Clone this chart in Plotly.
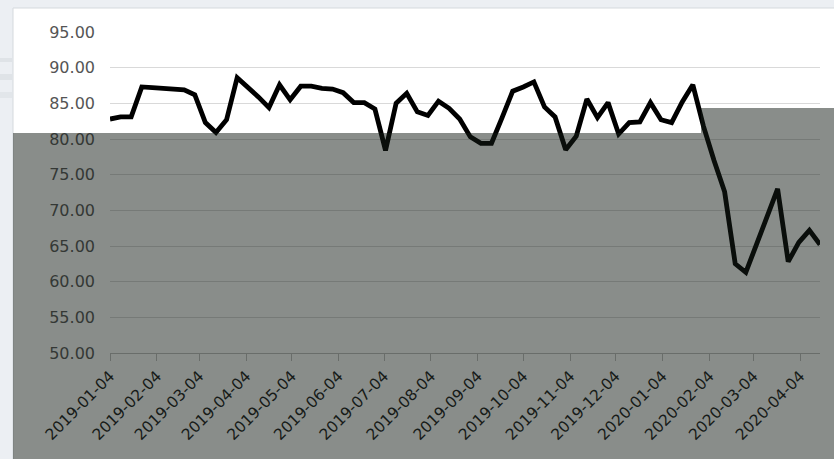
import pandas as pd
import plotly.graph_objects as go

# ---- data (weekly) ----
start_date = "2019-01-04"
values = [
    82.8, 83.1, 83.1, 87.3, 87.2, 87.1, 86.9, 86.9, 86.2, 82.3,
    80.9, 82.7, 88.6, 87.3, 85.9, 84.4, 87.6, 85.5, 87.4, 87.4,
    87.1, 87.0, 86.5, 85.1, 85.1, 84.2, 78.4, 85.0, 86.4, 83.8,
    83.3, 85.3, 84.3, 82.8, 80.3, 79.4, 79.4, 83.0, 86.7, 87.3,
    88.0, 84.5, 83.1, 78.5, 80.4, 85.6, 83.0, 85.1, 80.7, 82.3,
    82.4, 85.1, 82.7, 82.3, 85.2, 87.6, 81.8, 77.0, 72.6, 62.5,
    61.3, 65.2, 69.2, 73.0, 62.8, 65.5, 67.2, 65.2,
]
dates = pd.date_range(start_date, periods=len(values), freq="7D")
tick_dates = [
    "2019-01-04", "2019-02-04", "2019-03-04", "2019-04-04", "2019-05-04",
    "2019-06-04", "2019-07-04", "2019-08-04", "2019-09-04", "2019-10-04",
    "2019-11-04", "2019-12-04", "2020-01-04", "2020-02-04", "2020-03-04",
    "2020-04-04",
]
y_ticks = [50, 55, 60, 65, 70, 75, 80, 85, 90, 95]

# ---- geometry helpers (pixel -> paper) ----
W, H = 834, 459
L, R, T, B = 110, 14, 32, 106
PW, PH = W - L - R, H - T - B


def px(x):
    return (x - L) / PW


def py(y):
    return (H - B - y) / PH


fig = go.Figure()
fig.add_trace(go.Scatter(
    x=dates, y=values, mode="lines",
    line=dict(color="#000000", width=4.8),
    showlegend=False, hoverinfo="skip",
))

shapes = [
    # white chart box
    dict(type="rect", xref="paper", yref="paper",
         x0=px(13), x1=px(850), y0=py(480), y1=py(8),
         fillcolor="#ffffff", line=dict(color="#d5d9dd", width=1), layer="below"),
    # faint page stripes left
    dict(type="rect", xref="paper", yref="paper",
         x0=px(-5), x1=px(12), y0=py(62), y1=py(58),
         fillcolor="#dfe3e7", line=dict(width=0), layer="below"),
    dict(type="rect", xref="paper", yref="paper",
         x0=px(-5), x1=px(12), y0=py(80), y1=py(74),
         fillcolor="#dfe3e7", line=dict(width=0), layer="below"),
    dict(type="rect", xref="paper", yref="paper",
         x0=px(-5), x1=px(12), y0=py(98), y1=py(92),
         fillcolor="#e2e6ea", line=dict(width=0), layer="below"),
    # translucent dark overlay
    dict(type="path", xref="paper", yref="paper",
         path=(f"M {px(13)} {py(133)} L {px(701)} {py(133)} L {px(701)} {py(108)} "
               f"L {px(850)} {py(108)} L {px(850)} {py(480)} L {px(13)} {py(480)} Z"),
         fillcolor="rgb(20,27,22)", opacity=0.5, line=dict(width=0), layer="above"),
]

fig.update_layout(
    width=W, height=H, autosize=False,
    margin=dict(l=L, r=R, t=T, b=B),
    paper_bgcolor="#eceff3",
    plot_bgcolor="rgba(0,0,0,0)",
    shapes=shapes,
    font=dict(family="DejaVu Sans", size=16, color="#555555"),
    xaxis=dict(
        type="date",
        range=["2019-01-04", "2020-04-17"],
        tickvals=tick_dates,
        ticktext=tick_dates,
        tickangle=-45,
        showgrid=False,
        showline=True, linecolor="#bfbfbf", linewidth=1,
        ticks="outside", ticklen=7, tickcolor="#bfbfbf",
        tickfont=dict(family="DejaVu Sans", size=15.5, color="#1a1a1a"),
        zeroline=False,
    ),
    yaxis=dict(
        range=[50, 95],
        tickvals=y_ticks,
        tickformat=".2f",
        showgrid=True, gridcolor="#d9d9d9", gridwidth=1,
        showline=False, zeroline=False,
        ticks="", ticklabelstandoff=14,
        tickfont=dict(family="DejaVu Sans", size=16, color="#555555"),
    ),
)

fig.write_html(
    "out.html",
    config={"displayModeBar": False, "staticPlot": True},
    post_script="document.body.style.margin='0';document.body.style.background='#eceff3';",
)
